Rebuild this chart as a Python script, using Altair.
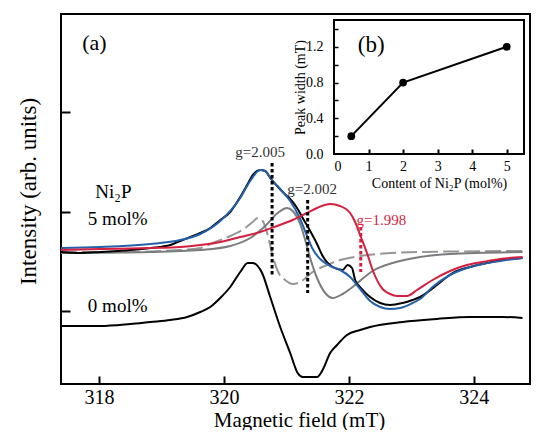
import altair as alt
import pandas as pd

FONT = "Liberation Serif"
RED = "#d41f3f"
BLUE = "#2460a7"
GRAY_A = "#979797"
GRAY_B = "#7a7c7f"

# ---------------- main panel (a): magnetic field (mT) vs intensity (arb. units)
ni0_x = [317.39, 318.02, 318.50, 318.82, 319.14, 319.41, 319.62, 319.78, 319.94, 320.10,
         320.26, 320.38, 320.46, 320.61, 320.74, 320.90, 321.06, 321.18, 321.26, 321.49,
         321.58, 321.70, 321.81, 321.97, 322.18, 322.34, 322.86, 323.41, 323.94, 324.46, 324.78]
ni0_y = [0.58, 0.58, 0.60, 0.62, 0.64, 0.67, 0.72, 0.77, 0.86, 0.97,
         1.12, 1.21, 1.21, 1.11, 0.87, 0.57, 0.31, 0.11, 0.07, 0.07,
         0.14, 0.31, 0.39, 0.49, 0.54, 0.57, 0.62, 0.65, 0.67, 0.67, 0.66]

ni5_x = [317.39, 317.70, 318.02, 318.50, 318.82, 319.14, 319.30, 319.46, 319.62, 319.78,
         319.94, 320.10, 320.26, 320.37, 320.46, 320.58, 320.66, 320.74, 320.85, 320.94,
         321.06, 321.17, 321.26, 321.38, 321.49, 321.58, 321.74, 321.90, 321.98, 322.05,
         322.10, 322.18, 322.34, 322.50, 322.66, 322.86, 323.02, 323.14, 323.41, 323.66,
         323.94, 324.21, 324.46, 324.78]
ni5_y = [1.32, 1.31, 1.32, 1.34, 1.36, 1.39, 1.43, 1.47, 1.51, 1.56,
         1.64, 1.72, 1.87, 1.99, 2.09, 2.14, 2.13, 2.06, 1.98, 1.92,
         1.85, 1.76, 1.66, 1.53, 1.40, 1.28, 1.17, 1.14, 1.19, 1.16,
         1.04, 0.97, 0.87, 0.81, 0.79, 0.81, 0.84, 0.87, 0.99, 1.11,
         1.17, 1.21, 1.24, 1.26]

fit_x = [317.39, 318.02, 318.82, 319.30, 319.62, 319.94, 320.26, 320.42, 320.58, 320.66,
         320.74, 320.90, 321.06, 321.22, 321.33, 321.42, 321.54, 321.70, 321.86, 322.02,
         322.18, 322.34, 322.50, 322.66, 322.82, 323.02, 323.14, 323.34, 323.62, 323.89,
         324.14, 324.42, 324.78]
fit_y = [1.36, 1.37, 1.40, 1.44, 1.50, 1.63, 1.86, 2.03, 2.14, 2.13,
         2.06, 1.95, 1.83, 1.65, 1.48, 1.35, 1.25, 1.18, 1.14, 1.07,
         0.95, 0.83, 0.77, 0.75, 0.76, 0.81, 0.85, 0.97, 1.09, 1.16,
         1.20, 1.23, 1.26]

c1998_x = [317.39, 318.02, 318.82, 319.30, 319.62, 319.94, 320.26, 320.58, 320.85, 321.10,
           321.33, 321.49, 321.70, 321.86, 322.02, 322.10, 322.18, 322.29, 322.38, 322.54,
           322.66, 322.77, 322.93, 323.09, 323.34, 323.62, 323.89, 324.14, 324.42, 324.78]
c1998_y = [1.34, 1.35, 1.36, 1.37, 1.39, 1.42, 1.47, 1.52, 1.58, 1.64,
           1.71, 1.76, 1.80, 1.78, 1.71, 1.62, 1.49, 1.31, 1.14, 0.95,
           0.90, 0.88, 0.88, 0.94, 1.04, 1.13, 1.19, 1.22, 1.25, 1.27]

c2005_x = [317.39, 318.34, 319.30, 319.62, 319.82, 320.10, 320.34, 320.46, 320.54, 320.62,
           320.70, 320.78, 320.86, 320.98, 321.10, 321.22, 321.42, 321.65, 321.86, 322.18,
           322.70, 323.14, 324.78]
c2005_y = [1.32, 1.32, 1.34, 1.36, 1.41, 1.48, 1.56, 1.62, 1.66, 1.63,
           1.49, 1.28, 1.13, 1.04, 1.00, 1.02, 1.12, 1.19, 1.24, 1.28,
           1.31, 1.32, 1.33]

c2002_x = [317.39, 318.82, 319.62, 320.10, 320.42, 320.66, 320.86, 321.01, 321.10, 321.22,
           321.30, 321.38, 321.49, 321.62, 321.74, 321.90, 322.06, 322.38, 322.70, 323.14,
           323.62, 324.78]
c2002_y = [1.31, 1.32, 1.34, 1.38, 1.46, 1.58, 1.71, 1.76, 1.73, 1.60,
           1.44, 1.26, 1.06, 0.91, 0.86, 0.90, 0.97, 1.13, 1.21, 1.27,
           1.30, 1.32]

# g-factor markers
g_names = ["g2005", "g2002", "g1998"]
g_field = [320.77, 321.34, 322.19]
g_top = [2.21, 1.84, 1.57]
g_bottom = [1.09, 0.91, 1.12]

g_labels = ["g=2.005", "g=2.002"]
g_label_x = [320.58, 321.41]
g_label_y = [2.27, 1.90]
g_red_label = ["g=1.998"]
g_red_x = [322.52]
g_red_y = [1.59]

sample_labels = ["Ni\u2082P", "5 mol%", "0 mol%"]
sample_x = [317.94, 317.82, 317.82]
sample_y = [1.86, 1.59, 0.72]

panel_a = ["(a)"]
panel_a_x = [317.73]
panel_a_y = [3.34]

field_ticks = [318, 320, 322, 324]
intensity_ticks = [0.73, 1.72, 2.72]
field_domain = [317.39, 324.90]
intensity_domain = [0.0, 3.70]

# ---------------- inset (b)
content = [0.5, 2, 5]
peak_width = [0.2, 0.8, 1.2]
inset_x_domain = [0, 5.5]
inset_y_domain = [0, 1.5]
inset_x_ticks = [0, 1, 2, 3, 4, 5]
inset_y_labels = [0.0, 0.4, 0.8, 1.2]
inset_y_ticks = [0.2, 0.4, 0.6, 0.8, 1.0, 1.2, 1.4]

W, H = 469, 370
IX_RANGE = [273, 463]
IY_RANGE = [140, 6]


def xs():
    return alt.Scale(domain=field_domain, nice=False, zero=False)


def ys():
    return alt.Scale(domain=intensity_domain, nice=False, zero=False)


def ixs():
    return alt.Scale(domain=inset_x_domain, range=IX_RANGE, nice=False, zero=False)


def iys():
    return alt.Scale(domain=inset_y_domain, range=IY_RANGE, nice=False, zero=False)


def curve(xv, yv, color, dash=None, x_axis=None, y_axis=None):
    df = pd.DataFrame({"field": xv, "intensity": yv})
    kw = dict(color=color, strokeWidth=2, interpolate="monotone")
    if dash:
        kw["strokeDash"] = dash
    return alt.Chart(df).mark_line(**kw).encode(
        x=alt.X("field:Q", scale=xs(), axis=x_axis),
        y=alt.Y("intensity:Q", scale=ys(), axis=y_axis),
    )


main_x_axis = alt.Axis(
    orient="bottom", values=field_ticks, format="d", ticks=False, domain=False, grid=False,
    labelFont=FONT, labelFontSize=20, labelColor="black", labelPadding=19,
    labelBaseline="alphabetic",
    title="Magnetic field (mT)", titleFont=FONT, titleFontSize=21, titleFontWeight="normal",
    titleColor="black", titleBaseline="alphabetic", titleX=238, titleY=42,
)
main_y_axis = alt.Axis(
    orient="left", labels=False, ticks=False, domain=False, grid=False,
    title="Intensity (arb. units)", titleFont=FONT, titleFontSize=23,
    titleFontWeight="normal", titleColor="black", titleBaseline="alphabetic",
    titleAlign="center", titleAngle=270, titleX=-26, titleY=177,
)

lay_gA = curve(c2005_x, c2005_y, GRAY_A, dash=[16, 5])
lay_gB = curve(c2002_x, c2002_y, GRAY_B)
lay_ni5 = curve(ni5_x, ni5_y, "black")
lay_fit = curve(fit_x, fit_y, BLUE)
lay_red = curve(c1998_x, c1998_y, RED)
lay_ni0 = curve(ni0_x, ni0_y, "black", x_axis=main_x_axis, y_axis=main_y_axis)

g_df = pd.DataFrame({"name": g_names, "field": g_field, "top": g_top, "bottom": g_bottom})
lay_g = alt.Chart(g_df).mark_rule(strokeWidth=3, strokeDash=[3.5, 2.5]).encode(
    x=alt.X("field:Q", scale=xs(), axis=alt.Axis(
        orient="top", offset=-H, values=field_ticks, labels=False, domain=False, grid=False,
        tickSize=8, tickWidth=2, tickColor="black", title=None)),
    y=alt.Y("top:Q", scale=ys(), axis=alt.Axis(
        orient="right", offset=-W, values=intensity_ticks, labels=False, domain=False,
        grid=False, tickSize=9, tickWidth=2, tickColor="black", title=None)),
    y2="bottom:Q",
    color=alt.Color("name:N", legend=None,
                    scale=alt.Scale(domain=g_names, range=["black", "black", RED])),
)


def text_layer(labels, xv, yv, size, color, align):
    df = pd.DataFrame({"label": labels, "field": xv, "intensity": yv})
    return alt.Chart(df).mark_text(
        font=FONT, fontSize=size, color=color, align=align, baseline="alphabetic"
    ).encode(
        x=alt.X("field:Q", scale=xs(), axis=None),
        y=alt.Y("intensity:Q", scale=ys(), axis=None),
        text="label:N",
    )


lay_gt = text_layer(g_labels, g_label_x, g_label_y, 15, "#333333", "center")
lay_gr = text_layer(g_red_label, g_red_x, g_red_y, 15, RED, "center")
lay_samples = text_layer(sample_labels, sample_x, sample_y, 19, "black", "left")
lay_a = text_layer(panel_a, panel_a_x, panel_a_y, 22, "black", "left")

# ---------------- inset layers
frame_df = pd.DataFrame({"x0": [inset_x_domain[0]], "x1": [inset_x_domain[1]],
                         "y0": [inset_y_domain[0]], "y1": [inset_y_domain[1]]})
lay_frame = alt.Chart(frame_df).mark_rect(
    fill="white", fillOpacity=0, stroke="black", strokeWidth=2
).encode(
    x=alt.X("x0:Q", scale=ixs(), axis=alt.Axis(
        orient="top", offset=-IY_RANGE[0], values=inset_x_ticks[1:], labels=False,
        domain=False, grid=False, tickSize=5, tickWidth=2, tickColor="black",
        title=None, zindex=1)),
    x2="x1:Q",
    y=alt.Y("y0:Q", scale=iys(), axis=alt.Axis(
        orient="right", offset=-(W - IX_RANGE[0]), values=inset_y_ticks, labels=False,
        domain=False, grid=False, tickSize=4, tickWidth=1.5, tickColor="black",
        title=None, zindex=1)),
    y2="y1:Q",
)

inset_df = pd.DataFrame({"content": content, "width": peak_width})
lay_iline = alt.Chart(inset_df).mark_line(color="black", strokeWidth=2).encode(
    x=alt.X("content:Q", scale=ixs(), axis=alt.Axis(
        orient="bottom", offset=-(H - IY_RANGE[0]), values=inset_x_ticks, format="d",
        ticks=False, domain=False, grid=False, labelFont=FONT, labelFontSize=14,
        labelColor="black", labelPadding=16, labelBaseline="alphabetic",
        title="Content of Ni\u2082P (mol%)", titleFont=FONT, titleFontSize=14,
        titleFontWeight="normal", titleColor="black", titleBaseline="alphabetic",
        titleX=378, titleY=33)),
    y=alt.Y("width:Q", scale=iys(), axis=alt.Axis(
        orient="left", offset=-IX_RANGE[0], values=inset_y_labels, format=".1f",
        ticks=False, domain=False, grid=False, labelFont=FONT, labelFontSize=14,
        labelColor="black", labelPadding=11,
        title="Peak width (mT)", titleFont=FONT, titleFontSize=14, titleFontWeight="normal",
        titleColor="black", titleBaseline="alphabetic", titleAngle=270, titleAlign="center",
        titleX=-30, titleY=73)),
)
lay_ipts = alt.Chart(inset_df).mark_point(filled=True, size=60, color="black", opacity=1).encode(
    x=alt.X("content:Q", scale=ixs(), axis=None),
    y=alt.Y("width:Q", scale=iys(), axis=None),
)
b_df = pd.DataFrame({"label": ["(b)"], "content": [0.69], "width": [1.14]})
lay_b = alt.Chart(b_df).mark_text(font=FONT, fontSize=23, align="left",
                                  baseline="alphabetic", color="black").encode(
    x=alt.X("content:Q", scale=ixs(), axis=None),
    y=alt.Y("width:Q", scale=iys(), axis=None),
    text="label:N",
)

chart = alt.layer(
    lay_gA, lay_gB, lay_ni5, lay_fit, lay_red, lay_ni0, lay_g,
    lay_gt, lay_gr, lay_samples, lay_a,
    lay_frame, lay_iline, lay_ipts, lay_b,
).resolve_scale(
    x="independent", y="independent"
).properties(
    width=W, height=H,
    padding={"left": 53, "top": 6, "right": 1, "bottom": 46},
    autosize=alt.AutoSizeParams(type="none"),
    background="white",
).configure_view(
    stroke="black", strokeWidth=2
)

chart.save("out.html", embed_options={"renderer": "svg", "actions": False})
